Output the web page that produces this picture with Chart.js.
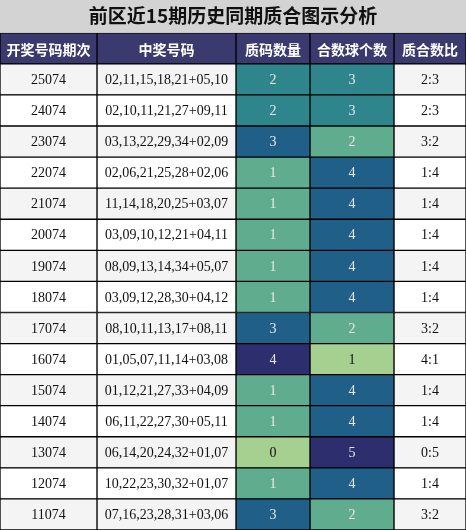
<!DOCTYPE html>
<html><head><meta charset="utf-8">
<script src="https://cdn.jsdelivr.net/npm/chart.js@4"></script>
<style>html,body{margin:0;padding:0;background:#d3d3d3}</style></head>
<body><canvas id="c" width="466" height="530"></canvas>
<script>
const titleText = '前区近15期历史同期质合图示分析';
const headers = ['开奖号码期次','中奖号码','质码数量','合数球个数','质合数比'];
const periods = ['25074','24074','23074','22074','21074','20074','19074','18074','17074','16074','15074','14074','13074','12074','11074'];
const numbers = ['02,11,15,18,21+05,10','02,10,11,21,27+09,11','03,13,22,29,34+02,09','02,06,21,25,28+02,06','11,14,18,20,25+03,07','03,09,10,12,21+04,11','08,09,13,14,34+05,07','03,09,12,28,30+04,12','08,10,11,13,17+08,11','01,05,07,11,14+03,08','01,12,21,27,33+04,09','06,11,22,27,30+05,11','06,14,20,24,32+01,07','10,22,23,30,32+01,07','07,16,23,28,31+03,06'];
const primes = [2,2,3,1,1,1,1,1,3,4,1,1,0,1,3];
const composites = [3,3,2,4,4,4,4,4,2,1,4,4,5,4,2];
const colWidths = [97,139,74,84,72];

const palette = ['#a5d08f','#5fac8f','#2e868c','#1f5f88','#2d2e6e'];
const rowBg = i => i % 2 === 0 ? '#f4f4f4' : '#ffffff';
const header = '#3b3a6e';
const labels = ['H', ...periods];
const pMin = Math.min(...primes), cMin = Math.min(...composites);

function colColors(ci){
  return labels.map((_, r) => {
    if (r === 0) return header;
    const i = r - 1;
    if (ci === 2) return palette[primes[i] - pMin];
    if (ci === 3) return palette[composites[i] - cMin];
    return rowBg(i);
  });
}
function cellText(ci, r){
  if (r === 0) return headers[ci];
  const i = r - 1;
  return [periods[i], numbers[i], String(primes[i]), String(composites[i]), primes[i] + ':' + composites[i]][ci];
}
const datasets = colWidths.map((w, ci) => ({
  data: labels.map(() => w),
  backgroundColor: colColors(ci),
  borderColor: '#000', borderWidth: 1, borderSkipped: false,
  barPercentage: 1, categoryPercentage: 1
}));

const textPlugin = {
  id: 'cellText',
  beforeDraw(chart){
    const ctx = chart.ctx;
    ctx.save(); ctx.fillStyle = '#d3d3d3'; ctx.fillRect(0,0,chart.width,chart.height); ctx.restore();
  },
  afterDatasetsDraw(chart){
    const ctx = chart.ctx;
    ctx.save();
    ctx.textAlign = 'center'; ctx.textBaseline = 'middle';
    chart.data.datasets.forEach((ds, ci) => {
      chart.getDatasetMeta(ci).data.forEach((bar, r) => {
        const cx = (bar.x + bar.base) / 2;
        if (r === 0) {
          ctx.font = 'bold 14px "Noto Sans CJK SC"';
          ctx.fillStyle = '#fff';
        } else {
          ctx.font = '14px "Liberation Serif"';
          let light = false;
          if (ci === 2 || ci === 3) {
            const v = ci === 2 ? primes[r-1] - pMin : composites[r-1] - cMin;
            light = v > 0;
          }
          ctx.fillStyle = light ? '#e8e8e8' : '#111';
        }
        ctx.fillText(cellText(ci, r), cx, bar.y + 1);
      });
    });
    ctx.restore();
  }
};

new Chart(document.getElementById('c'), {
  type: 'bar',
  data: { labels, datasets },
  options: {
    indexAxis: 'y', responsive: false, animation: false,
    layout: { padding: 0 },
    scales: {
      x: { stacked: true, min: 0, max: 466, display: false },
      y: { stacked: true, display: false }
    },
    plugins: {
      legend: { display: false }, tooltip: { enabled: false },
      title: { display: true, text: titleText, color: '#111',
        font: { family: '"Noto Sans CJK SC"', size: 19, weight: 'bold' },
        padding: { top: 4, bottom: 6 } }
    }
  },
  plugins: [textPlugin]
});
</script></body></html>
